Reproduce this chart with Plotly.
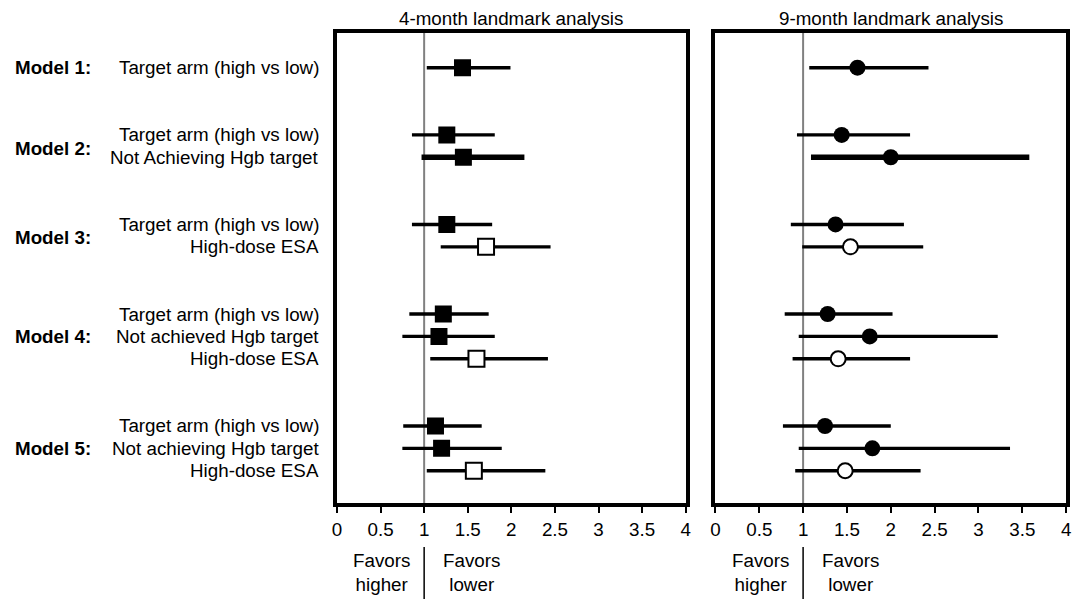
import plotly.graph_objects as go

# ---------------- data ----------------
model_names = ["Model 1:", "Model 2:", "Model 3:", "Model 4:", "Model 5:"]
row_labels = [
    ["Target arm (high vs low)"],
    ["Target arm (high vs low)", "Not Achieving Hgb target"],
    ["Target arm (high vs low)", "High-dose ESA"],
    ["Target arm (high vs low)", "Not achieved Hgb target", "High-dose ESA"],
    ["Target arm (high vs low)", "Not achieving Hgb target", "High-dose ESA"],
]
panel_titles = ["4-month landmark analysis", "9-month landmark analysis"]

# 4-month landmark: hazard ratio, lower CI, upper CI (row order as above)
hr_4m = [1.44, 1.26, 1.45, 1.26, 1.71, 1.22, 1.17, 1.60, 1.13, 1.20, 1.57]
lo_4m = [1.03, 0.86, 0.97, 0.86, 1.19, 0.83, 0.75, 1.07, 0.76, 0.75, 1.03]
hi_4m = [1.99, 1.81, 2.15, 1.78, 2.45, 1.74, 1.81, 2.42, 1.66, 1.89, 2.39]

# 9-month landmark
hr_9m = [1.62, 1.44, 2.00, 1.37, 1.54, 1.28, 1.76, 1.40, 1.25, 1.79, 1.48]
lo_9m = [1.07, 0.93, 1.09, 0.86, 0.99, 0.79, 0.95, 0.88, 0.77, 0.95, 0.91]
hi_9m = [2.43, 2.22, 3.58, 2.15, 2.37, 2.02, 3.22, 2.22, 2.00, 3.36, 2.34]

x_ticks = [0, 0.5, 1, 1.5, 2, 2.5, 3, 3.5, 4]
x_tick_text = ["0", "0.5", "1", "1.5", "2", "2.5", "3", "3.5", "4"]
reference_value = 1
favors_left = "Favors<br>higher"
favors_right = "Favors<br>lower"

# ---------------- layout helpers ----------------
OFF = 8                      # page body margin
W, H = 1086 - OFF, 601 - OFF  # figure size inside the page
FONT = "Liberation Sans, Arial, Helvetica, sans-serif"
FS = 18.8
GAP = 3  # row units between models

# row positions (row units, top = 0)
row_pos, row_text, row_open, row_thick, model_pos = [], [], [], [], []
pos = 0
for m, labels in enumerate(row_labels):
    start = pos
    for r, lab in enumerate(labels):
        row_pos.append(pos)
        row_text.append(lab)
        row_open.append(lab == "High-dose ESA")
        row_thick.append(m == 1 and r == 1)
        pos += 1
    model_pos.append((start + pos - 1) / 2 if len(labels) != 2 else start + 0.6)
    pos += GAP - 1

y_top, y_bot = -1.55, row_pos[-1] + 1.44


def px_x(p):
    return (p - OFF) / W


def px_y(p):
    return 1 - (p - OFF) / H


dom_y = [px_y(503), px_y(33)]
dom_x = [[px_x(335), px_x(687)], [px_x(717), px_x(1071)]]

fig = go.Figure()

panels = [(hr_4m, lo_4m, hi_4m, "square", 17), (hr_9m, lo_9m, hi_9m, "circle", 16)]
for i, (hr, lo, hi, sym, msize) in enumerate(panels):
    xa = "x" if i == 0 else "x2"
    ya = "y" if i == 0 else "y2"
    for thick in (False, True):
        xs, ys = [], []
        for k in range(len(hr)):
            if row_thick[k] == thick:
                xs += [lo[k], hi[k], None]
                ys += [row_pos[k], row_pos[k], None]
        fig.add_trace(go.Scatter(x=xs, y=ys, mode="lines", xaxis=xa, yaxis=ya,
                                 line=dict(color="black", width=5.5 if thick else 3.4),
                                 hoverinfo="skip", showlegend=False))
    for is_open in (False, True):
        xs = [hr[k] for k in range(len(hr)) if row_open[k] == is_open]
        ys = [row_pos[k] for k in range(len(hr)) if row_open[k] == is_open]
        fig.add_trace(go.Scatter(
            x=xs, y=ys, mode="markers", xaxis=xa, yaxis=ya, showlegend=False,
            marker=dict(symbol=sym, size=msize - (1 if is_open else 0),
                        color="white" if is_open else "black",
                        line=dict(color="black", width=2 if is_open else 0))))

axis_common = dict(range=[0, 4], tickmode="array", tickvals=x_ticks, ticktext=x_tick_text,
                   showline=True, mirror=True, linecolor="black", linewidth=4,
                   ticks="outside", ticklen=6, tickwidth=2, tickcolor="black",
                   showgrid=False, zeroline=False, fixedrange=True,
                   tickfont=dict(family=FONT, size=FS, color="black"))
yaxis_common = dict(range=[y_bot, y_top], domain=dom_y, showticklabels=False, ticks="",
                    showline=True, mirror=True, linecolor="black", linewidth=4,
                    showgrid=False, zeroline=False, fixedrange=True)

fig.update_layout(
    width=W, height=H, margin=dict(l=0, r=0, t=0, b=0),
    paper_bgcolor="white", plot_bgcolor="white",
    xaxis=dict(domain=dom_x[0], anchor="y", **axis_common),
    xaxis2=dict(domain=dom_x[1], anchor="y2", **axis_common),
    yaxis=dict(anchor="x", **yaxis_common),
    yaxis2=dict(anchor="x2", **yaxis_common),
    font=dict(family=FONT, size=FS, color="black"),
)

shapes = []
annotations = []
for i, xa in enumerate(["x", "x2"]):
    # reference line at HR = 1
    shapes.append(dict(type="line", xref=xa, yref="paper", x0=reference_value, x1=reference_value,
                       y0=dom_y[0], y1=dom_y[1], line=dict(color="#808080", width=2), layer="below"))
    # divider under axis
    shapes.append(dict(type="line", xref=xa, yref="paper", x0=reference_value, x1=reference_value,
                       y0=px_y(599), y1=px_y(547), line=dict(color="black", width=1.5)))
    annotations.append(dict(xref="paper", yref="paper", x=(dom_x[i][0] + dom_x[i][1]) / 2, y=px_y(18),
                            text=panel_titles[i], showarrow=False, xanchor="center", yanchor="middle",
                            font=dict(family=FONT, size=FS)))
    annotations.append(dict(xref=xa, yref="paper", x=0.86, y=px_y(572), text=favors_left,
                            showarrow=False, xanchor="right", yanchor="middle", align="center",
                            font=dict(family=FONT, size=FS)))
    annotations.append(dict(xref=xa, yref="paper", x=1.19, y=px_y(572), text=favors_right,
                            showarrow=False, xanchor="left", yanchor="middle", align="center",
                            font=dict(family=FONT, size=FS)))

for k in range(len(row_text)):
    annotations.append(dict(xref="paper", yref="y", x=px_x(319), y=row_pos[k], text=row_text[k],
                            showarrow=False, xanchor="right", yanchor="middle",
                            font=dict(family=FONT, size=FS)))
for m, name in enumerate(model_names):
    annotations.append(dict(xref="paper", yref="y", x=px_x(8), y=model_pos[m], text="<b>" + name + "</b>",
                            showarrow=False, xanchor="left", yanchor="middle",
                            font=dict(family=FONT, size=FS)))

fig.update_layout(shapes=shapes, annotations=annotations)
fig.write_html("out.html")
